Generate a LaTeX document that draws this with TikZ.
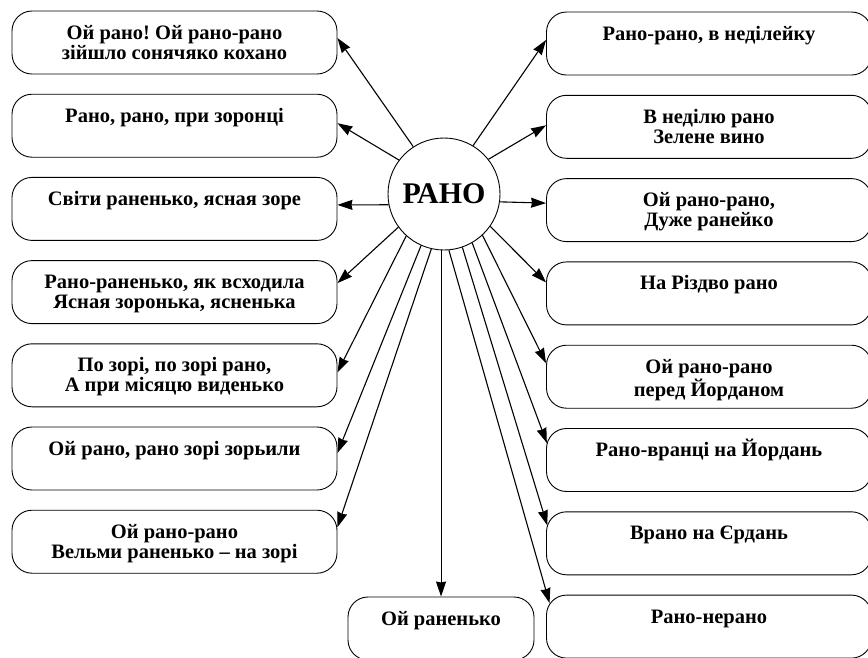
\documentclass[tikz,border=0pt]{standalone}
\usepackage{fontspec}
\setmainfont{Liberation Serif}
\usetikzlibrary{arrows.meta}
\frenchspacing

\newcommand{\ranotxt}[2][310pt]{\parbox[c][63pt][t]{#1}{\centering\rule{0pt}{28pt}#2}}

\tikzset{
    verse/.style={draw, line width=0.9pt, rounded corners=20pt, inner sep=0pt,
        minimum height=63pt, minimum width=325pt,
        font=\fontsize{20.5}{20}\selectfont\bfseries},
    link/.style={-{Stealth[length=15pt, width=10pt, inset=1pt]}, line width=1.1pt},
}

\begin{document}
\begin{tikzpicture}[x=1pt, y=-1pt]
        \useasboundingbox (0,0) rectangle (868,657);
        \clip (0,0) rectangle (868,657);

        % Centre
        \node[draw, circle, line width=0.9pt, minimum size=112pt, inner sep=0pt,
            font=\fontsize{30}{32}\selectfont\bfseries] (c) at (444,194) {РАНО};

        % Left column
        \node[verse] (l1) at (174.5,42.5) {\ranotxt{Ой рано! Ой рано-рано\\зійшло сонячяко кохано}};
        \node[verse] (l2) at (174.5,125.7) {\ranotxt{Рано, рано, при зоронці}};
        \node[verse] (l3) at (174.5,208.9) {\ranotxt{Світи раненько, ясная зоре}};
        \node[verse] (l4) at (174.5,292.1) {\ranotxt{Рано-раненько, як всходила\\Ясная зоронька, ясненька}};
        \node[verse] (l5) at (174.5,375.3) {\ranotxt{По зорі, по зорі рано,\\А при місяцю виденько}};
        \node[verse] (l6) at (174.5,458.5) {\ranotxt{Ой рано, рано зорі зорьили}};
        \node[verse] (l7) at (174.5,541.7) {\ranotxt{Ой рано-рано\\Вельми раненько – на зорі}};

        % Right column
        \begin{scope}[every node/.style={minimum width=320pt}]
            \node[verse] (r1) at (709,43.5) {\ranotxt{Рано-рано, в неділейку}};
            \node[verse] (r2) at (709,126.8) {\ranotxt{В неділю рано\\Зелене вино}};
            \node[verse] (r3) at (709,210.1) {\ranotxt{Ой рано-рано,\\Дуже ранейко}};
            \node[verse] (r4) at (709,293.4) {\ranotxt{На Різдво рано}};
            \node[verse] (r5) at (709,376.7) {\ranotxt{Ой рано-рано\\перед Йорданом}};
            \node[verse] (r6) at (709,460) {\ranotxt{Рано-вранці на Йордань}};
            \node[verse] (r7) at (709,543.3) {\ranotxt{Врано на Єрдань}};
            \node[verse] (r8) at (709,626.6) {\ranotxt{Рано-нерано}};
        \end{scope}

        % Bottom
        \node[verse, minimum width=186pt] (b) at (441,628.5) {\ranotxt[175pt]{Ой раненько}};

        % Arrows to the left
        \draw[link] (c.123.4) -- ([yshift=4.5pt]l1.east);
        \draw[link] (c.143.5) -- ([yshift=2.5pt]l2.east);
        \draw[link] (c.191) -- ([yshift=4pt]l3.east);
        \draw[link] (c.216) -- ([yshift=9pt]l4.east);
        \draw[link] (c.228.5) -- ([yshift=3pt]l5.east);
        \draw[link] (c.246) -- ([yshift=5.5pt]l6.east);
        \draw[link] (c.257.7) -- ([yshift=14.5pt]l7.east);

        % Arrow down
        \draw[link] (c.267) -- (c.267 |- b.north);

        % Arrows to the right
        \draw[link] (c.59.5) -- ([yshift=3.5pt]r1.west);
        \draw[link] (c.38.7) -- ([yshift=1.5pt]r2.west);
        \draw[link] (c.352) -- ([yshift=7pt]r3.west);
        \draw[link] (c.325.2) -- ([yshift=11pt]r4.west);
        \draw[link] (c.313.6) -- ([yshift=13.5pt]r5.west);
        \draw[link] (c.300) -- ([xshift=0.8pt, yshift=17pt]r6.west);
        \draw[link] (c.289.4) -- ([xshift=1.2pt, yshift=18pt]r7.west);
        \draw[link] (c.275) -- ([xshift=3.5pt, yshift=23.5pt]r8.west);
\end{tikzpicture}
\end{document}
